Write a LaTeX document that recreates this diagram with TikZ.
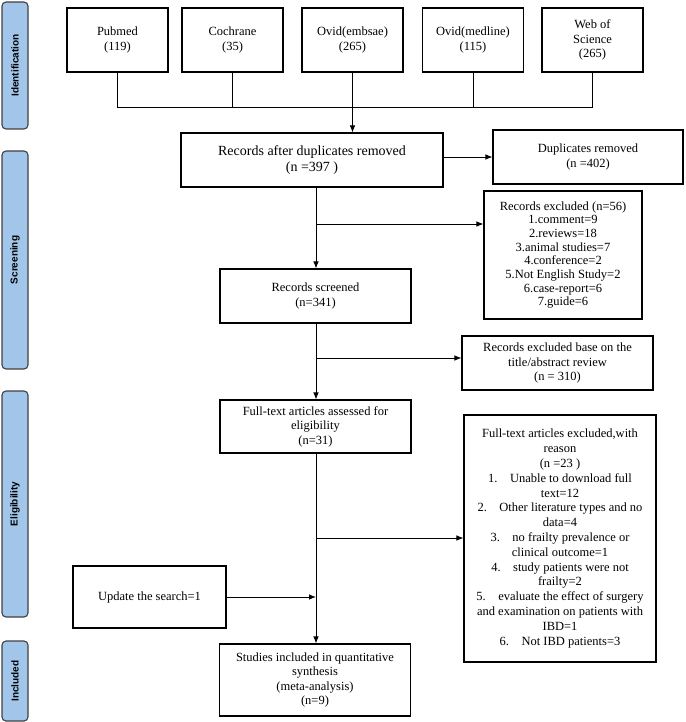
\documentclass[tikz,border=0pt]{standalone}
\usepackage{fontspec}
\setmainfont{Liberation Serif}
\newfontfamily\barfont{Liberation Sans}
\usetikzlibrary{arrows.meta}
\definecolor{barblue}{HTML}{A2C5EA}
\begin{document}
\begin{tikzpicture}[x=1pt,y=-1pt,line width=.8pt,
    box/.style={draw,line width=1.1pt,align=center,inner sep=1pt,
        font=\fontsize{12.5}{14.5}\selectfont},
    src/.style={box,minimum width=101pt,minimum height=64pt},
    mid/.style={box,minimum width=191pt},
    phase/.style={draw=black!75,fill=barblue,line width=1.1pt,rounded corners=4pt,
        rotate=90,minimum height=26pt,font=\barfont\bfseries\fontsize{10}{12}\selectfont},
    arr/.style={-{Latex[length=7pt,width=5.5pt]}}]
    \useasboundingbox (0,0) rectangle (685,722);
    % <<< cột trái
    \node[phase,minimum width=127pt] (idbar) at (15,65.5) {Identification};
    \node[phase,minimum width=218pt] (scbar) at (15,260) {Screening};
    \node[phase,minimum width=226pt] (elbar) at (15,504) {Eligibility};
    \node[phase,minimum width=80pt] (inbar) at (15,681) {Included};
    % <<< hàng 1
    \path
    (117.5,40) node[src] (pubmed) {Pubmed\\(119)}
    ++(0:115) node[src] (cochrane) {Cochrane\\(35)}
    ++(0:120) node[src] (ovidE) {Ovid(embsae)\\(265)}
    ++(0:120.5) node[src] (ovidM) {Ovid(medline)\\(115)}
    ++(0:119.5) node[src] (wos) {Web of\\Science\\(265)};
    \coordinate (merge) at (0,107);
    % <<< giữa
    \node[box,minimum width=262pt,minimum height=54pt,
        font=\fontsize{14}{16}\selectfont] (dedup) at (312,160)
        {Records after duplicates removed\\(n =397 )};
    \node[mid,minimum height=54pt] (screened) at (315.5,296) {Records screened\\(n=341)};
    \node[mid,minimum height=53pt] (assessed) at (315.5,426.5)
        {Full-text articles assessed for\\eligibility\\(n=31)};
    \node[mid,minimum height=72pt] (studies) at (315,680)
        {Studies included in quantitative\\synthesis\\(meta-analysis)\\(n=9)};
    \node[box,minimum width=153pt,minimum height=62pt] (update) at (149.5,597)
        {Update the search=1};
    % <<< bên phải
    \node[box,minimum width=190pt,minimum height=54pt] (dupl) at (588,157)
        {Duplicates removed\\(n =402)};
    \node[box,minimum width=158pt,minimum height=128pt,
        font=\fontsize{12.5}{13.7}\selectfont] (excl1) at (563,255)
        {Records excluded (n=56)\\1.comment=9\\2.reviews=18\\3.animal studies=7\\
         4.conference=2\\5.Not English Study=2\\6.case-report=6\\7.guide=6};
    \node[box,minimum width=191pt,minimum height=54pt] (excl2) at (557.5,363)
        {Records excluded base on the\\title/abstract review\\(n = 310)};
    \node[box,minimum width=192pt,minimum height=247pt,
        font=\fontsize{12.5}{14.8}\selectfont] (excl3) at (560,538.5)
        {Full-text articles excluded,with\\reason\\(n =23 )\\
         1.\quad Unable to download full\\text=12\\
         2.\quad Other literature types and no\\data=4\\
         3.\quad no frailty prevalence or\\clinical outcome=1\\
         4.\quad study patients were not\\frailty=2\\
         5.\quad evaluate the effect of surgery\\and examination on patients with\\IBD=1\\
         6.\quad Not IBD patients=3};
    % <<< nối
    \draw (pubmed) -- (pubmed |- merge) -- (wos |- merge) -- (wos);
    \draw (cochrane) -- (cochrane |- merge);
    \draw (ovidM) -- (ovidM |- merge);
    \draw[arr] (ovidE) -- (ovidE |- dedup.north);
    \draw[arr] (dedup.east |- dupl.west) -- (dupl.west);
    \coordinate (b1) at (316,224);
    \coordinate (b2) at (316,358);
    \coordinate (b3) at (316,538);
    \coordinate (b4) at (316,597);
    \draw[arr] (b1 |- dedup.south) -- (b1 |- screened.north);
    \draw[arr] (b1 |- screened.south) -- (b1 |- assessed.north);
    \draw[arr] (b1 |- assessed.south) -- (b1 |- studies.north);
    \draw[arr] (b1) -- (b1 -| excl1.west);
    \draw[arr] (b2) -- (b2 -| excl2.west);
    \draw[arr] (b3) -- (b3 -| excl3.west);
    \draw[arr] (update.east) -- (b4);
\end{tikzpicture}
\end{document}
